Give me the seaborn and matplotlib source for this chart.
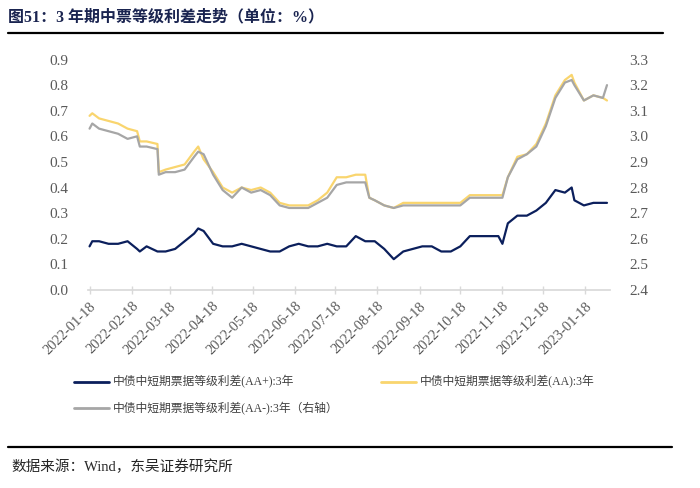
import numpy as np
import pandas as pd
import seaborn as sns
import matplotlib.pyplot as plt
import matplotlib.dates as mdates
from matplotlib.lines import Line2D

# ---------------------------------------------------------------
# Data (%)
dates = ["2022-01-18", "2022-01-20", "2022-01-25", "2022-02-01", "2022-02-08", "2022-02-15",
         "2022-02-22", "2022-02-24", "2022-03-01", "2022-03-09", "2022-03-10", "2022-03-15",
         "2022-03-22", "2022-03-29", "2022-04-05", "2022-04-08", "2022-04-12", "2022-04-19",
         "2022-04-26", "2022-05-03", "2022-05-10", "2022-05-17", "2022-05-24", "2022-05-31",
         "2022-06-07", "2022-06-14", "2022-06-21", "2022-06-28", "2022-07-05", "2022-07-12",
         "2022-07-19", "2022-07-26", "2022-08-02", "2022-08-09", "2022-08-12", "2022-08-16",
         "2022-08-23", "2022-08-30", "2022-09-06", "2022-09-13", "2022-09-20", "2022-09-27",
         "2022-10-04", "2022-10-11", "2022-10-18", "2022-10-25", "2022-11-01", "2022-11-08",
         "2022-11-15", "2022-11-18", "2022-11-22", "2022-11-29", "2022-12-06", "2022-12-13",
         "2022-12-20", "2022-12-27", "2023-01-03", "2023-01-08", "2023-01-10", "2023-01-17",
         "2023-01-24", "2023-01-31", "2023-02-03"]

aa_plus = [0.17, 0.19, 0.19, 0.18, 0.18, 0.19,
           0.16, 0.15, 0.17, 0.15, 0.15, 0.15,
           0.16, 0.19, 0.22, 0.24, 0.23, 0.18,
           0.17, 0.17, 0.18, 0.17, 0.16, 0.15,
           0.15, 0.17, 0.18, 0.17, 0.17, 0.18,
           0.17, 0.17, 0.21, 0.19, 0.19, 0.19,
           0.16, 0.12, 0.15, 0.16, 0.17, 0.17,
           0.15, 0.15, 0.17, 0.21, 0.21, 0.21,
           0.21, 0.18, 0.26, 0.29, 0.29, 0.31,
           0.34, 0.39, 0.38, 0.40, 0.35, 0.33,
           0.34, 0.34, 0.34]

aa = [0.68, 0.69, 0.67, 0.66, 0.65, 0.63,
      0.62, 0.58, 0.58, 0.57, 0.46, 0.47,
      0.48, 0.49, 0.54, 0.56, 0.51, 0.46,
      0.40, 0.38, 0.40, 0.39, 0.40, 0.38,
      0.34, 0.33, 0.33, 0.33, 0.35, 0.38,
      0.44, 0.44, 0.45, 0.45, 0.36, 0.35,
      0.33, 0.32, 0.34, 0.34, 0.34, 0.34,
      0.34, 0.34, 0.34, 0.37, 0.37, 0.37,
      0.37, 0.37, 0.44, 0.52, 0.53, 0.57,
      0.65, 0.76, 0.82, 0.84, 0.81, 0.74,
      0.76, 0.75, 0.74]

aa_minus = [3.03, 3.05, 3.03, 3.02, 3.01, 2.99,
            3.00, 2.96, 2.96, 2.95, 2.85, 2.86,
            2.86, 2.87, 2.92, 2.94, 2.93, 2.85,
            2.79, 2.76, 2.80, 2.78, 2.79, 2.77,
            2.73, 2.72, 2.72, 2.72, 2.74, 2.76,
            2.81, 2.82, 2.82, 2.82, 2.76, 2.75,
            2.73, 2.72, 2.73, 2.73, 2.73, 2.73,
            2.73, 2.73, 2.73, 2.76, 2.76, 2.76,
            2.76, 2.76, 2.84, 2.91, 2.93, 2.96,
            3.04, 3.15, 3.21, 3.22, 3.20, 3.14,
            3.16, 3.15, 3.20]

labels = ["中债中短期票据等级利差(AA+):3年",
          "中债中短期票据等级利差(AA):3年",
          "中债中短期票据等级利差(AA-):3年（右轴）"]
colors = ["#0b1f5c", "#f9d56e", "#a6a6a6"]

df = pd.DataFrame({"date": pd.to_datetime(dates), "aa_plus": aa_plus,
                   "aa": aa, "aa_minus": aa_minus})

# ---------------------------------------------------------------
sns.set_theme(style="white")
plt.rcParams['font.family'] = ['Liberation Serif', 'Noto Sans CJK SC', 'DejaVu Sans']

fig = plt.figure(figsize=(7, 4.88), dpi=100)
ax = fig.add_axes([0.126, 0.406, 0.745, 0.472])
ax2 = ax.twinx()

sns.lineplot(data=df, x="date", y="aa_plus", ax=ax, color=colors[0], linewidth=1.6)
sns.lineplot(data=df, x="date", y="aa", ax=ax, color=colors[1], linewidth=1.6)
sns.lineplot(data=df, x="date", y="aa_minus", ax=ax2, color=colors[2], linewidth=1.6)

ax.set_ylim(0, 0.9)
ax.set_yticks(np.arange(0, 0.91, 0.1))
ax.set_yticklabels([f"{v:.1f}" for v in np.arange(0, 0.91, 0.1)])
ax2.set_ylim(2.4, 3.3)
ax2.set_yticks(np.arange(2.4, 3.31, 0.1))
ax2.set_yticklabels([f"{v:.1f}" for v in np.arange(2.4, 3.31, 0.1)])

ax.set_xlim(pd.Timestamp("2022-01-17"), pd.Timestamp("2023-02-05"))
ticks = pd.date_range("2022-01-01", "2023-01-01", freq="MS") + pd.Timedelta(days=17)
ax.set_xticks(ticks)
ax.xaxis.set_major_formatter(mdates.DateFormatter("%Y-%m-%d"))
for t in ax.get_xticklabels():
    t.set_rotation(45)
    t.set_ha("right")
    t.set_rotation_mode("anchor")

for a in (ax, ax2):
    a.set_xlabel("")
    a.set_ylabel("")
    for s in a.spines.values():
        s.set_visible(False)
ax.spines["bottom"].set_visible(True)
ax.spines["bottom"].set_color("#d9d9d9")

ax.tick_params(axis="x", colors="#d9d9d9", labelcolor="#595959", labelsize=10.5,
               direction="inout", length=6, width=1, bottom=True, pad=4)
ax.tick_params(axis="y", labelcolor="#595959", labelsize=11, length=0, pad=14)
ax2.tick_params(axis="y", labelcolor="#595959", labelsize=11, length=0, pad=14)

# legend
handles = [Line2D([], [], color=c, linewidth=2) for c in colors]
order = [0, 2, 1]
fig.legend([handles[i] for i in order], [labels[i] for i in order],
           loc="upper left", bbox_to_anchor=(0.09, 0.252), ncol=2, frameon=False,
           handlelength=3.0, handletextpad=0.3, labelspacing=1.15,
           columnspacing=3.6, labelcolor="#404040",
           prop={'family': ['Liberation Serif', 'Noto Sans CJK SC'], 'size': 8.5})

# title, rules and source
fig.text(0.012, 1 - 17 / 488, "图51：3 年期中票等级利差走势（单位：%）",
         fontsize=11.5, fontweight="bold", color="#1a2450", va="center",
         family=['Liberation Serif', 'Noto Sans CJK SC'])
fig.add_artist(Line2D([8 / 700, 663 / 700], [1 - 33 / 488] * 2, color="black", linewidth=1.6))
fig.add_artist(Line2D([8 / 700, 672 / 700], [1 - 447 / 488] * 2, color="black", linewidth=1.6))
fig.text(0.017, 1 - 467 / 488, "数据来源：Wind，东吴证券研究所", fontsize=10.5,
         color="#262626", va="center", family=['Liberation Serif', 'Noto Sans CJK SC'])

fig.savefig("out.png", dpi=100)
